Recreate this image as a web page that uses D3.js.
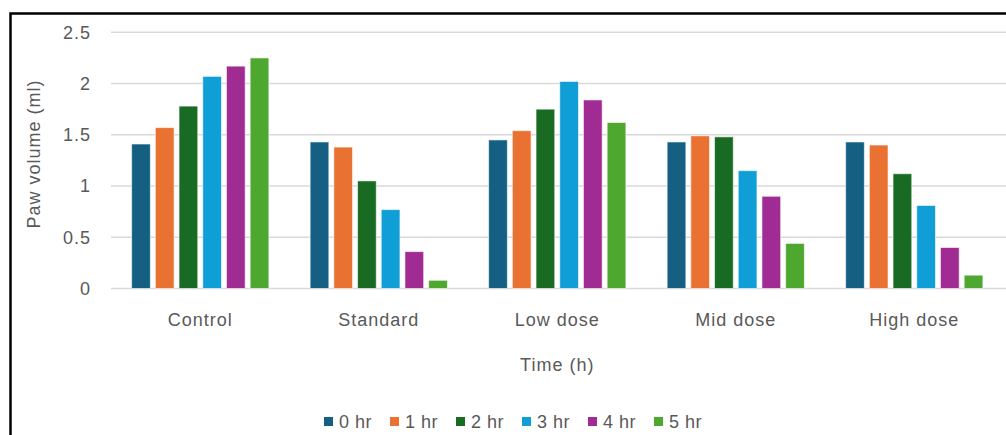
<!DOCTYPE html>
<html>
<head>
<meta charset="utf-8">
<script src="https://cdn.jsdelivr.net/npm/d3@7"></script>
<style>
  html, body { margin: 0; padding: 0; background: #fff; }
  svg { display: block; font-family: "Liberation Sans", Arial, sans-serif; }
</style>
</head>
<body>
<div id="chart"></div>
<script>
const categories = ["Control", "Standard", "Low dose", "Mid dose", "High dose"];
const seriesNames = ["0 hr", "1 hr", "2 hr", "3 hr", "4 hr", "5 hr"];
const hr0 = [1.41, 1.43, 1.45, 1.43, 1.43];
const hr1 = [1.57, 1.38, 1.54, 1.49, 1.40];
const hr2 = [1.78, 1.05, 1.75, 1.48, 1.12];
const hr3 = [2.07, 0.77, 2.02, 1.15, 0.81];
const hr4 = [2.17, 0.36, 1.84, 0.90, 0.40];
const hr5 = [2.25, 0.08, 1.62, 0.44, 0.13];
const yTicks = [0, 0.5, 1, 1.5, 2, 2.5];
const colors = ["#156082", "#E97132", "#196B24", "#0F9ED5", "#A02B93", "#4EA72E"];

(function() {
  const width = 1006;
  const height = 435;
  const plot = { left: 111, right: 1003.5, top: 32.3, bottom: 288.5 };
  const textColor = "#595959";
  const series = [hr0, hr1, hr2, hr3, hr4, hr5];

  const svg = d3.select("#chart")
    .append("svg")
    .attr("width", width)
    .attr("height", height);

  const x0 = d3.scaleBand()
    .domain(categories)
    .range([plot.left, plot.right]);

  const x1 = d3.scaleBand()
    .domain(seriesNames)
    .range([0, x0.bandwidth()])
    .paddingInner(0.21)
    .paddingOuter(0.87);

  const y = d3.scaleLinear()
    .domain([0, 2.5])
    .range([plot.bottom, plot.top]);

  // Gridlines
  svg.append("g")
    .selectAll("line")
    .data(yTicks)
    .join("line")
    .attr("x1", plot.left)
    .attr("x2", width)
    .attr("y1", d => y(d))
    .attr("y2", d => y(d))
    .attr("stroke", "#d9d9d9")
    .attr("stroke-width", 1.5);

  // Y axis labels
  const yAxis = svg.append("g")
    .attr("transform", "translate(91,0)")
    .call(d3.axisLeft(y).tickValues(yTicks).tickSize(0).tickPadding(0).tickFormat(d3.format("")));
  yAxis.select(".domain").remove();
  yAxis.selectAll("text")
    .attr("font-size", "18px")
    .attr("letter-spacing", "1px")
    .attr("font-family", "Liberation Sans, Arial, sans-serif")
    .attr("fill", textColor);

  // X axis labels
  const xAxis = svg.append("g")
    .attr("transform", `translate(0,${plot.bottom})`)
    .call(d3.axisBottom(x0).tickSize(0).tickPadding(25));
  xAxis.select(".domain").remove();
  xAxis.selectAll("text")
    .attr("font-size", "18px")
    .attr("letter-spacing", "1px")
    .attr("font-family", "Liberation Sans, Arial, sans-serif")
    .attr("fill", textColor);

  // Bars
  const groups = svg.append("g")
    .selectAll("g")
    .data(categories)
    .join("g")
    .attr("transform", d => `translate(${x0(d)},0)`);

  groups.selectAll("rect")
    .data((c, ci) => seriesNames.map((s, si) => ({ s, si, v: series[si][ci] })))
    .join("rect")
    .attr("x", d => x1(d.s))
    .attr("y", d => y(d.v))
    .attr("width", x1.bandwidth())
    .attr("height", d => y(0) - y(d.v))
    .attr("fill", d => colors[d.si])
    .attr("stroke", "rgba(255,255,255,0.6)")
    .attr("stroke-width", 1);

  // Axis titles
  svg.append("text")
    .attr("x", (plot.left + plot.right) / 2)
    .attr("y", 371)
    .attr("text-anchor", "middle")
    .attr("font-size", "18px")
    .attr("letter-spacing", "1px")
    .attr("fill", textColor)
    .text("Time (h)");

  svg.append("text")
    .attr("transform", "rotate(-90)")
    .attr("x", -154)
    .attr("y", 40)
    .attr("text-anchor", "middle")
    .attr("font-size", "18px")
    .attr("letter-spacing", "1px")
    .attr("fill", textColor)
    .text("Paw volume (ml)");

  // Legend
  const legend = svg.append("g")
    .selectAll("g")
    .data(seriesNames)
    .join("g")
    .attr("transform", (d, i) => `translate(${324 + i * 66},0)`);

  legend.append("rect")
    .attr("x", 0)
    .attr("y", 417)
    .attr("width", 9)
    .attr("height", 9)
    .attr("fill", (d, i) => colors[i]);

  legend.append("text")
    .attr("x", 15)
    .attr("y", 427.5)
    .attr("font-size", "18px")
    .attr("letter-spacing", "0.5px")
    .attr("fill", textColor)
    .text(d => d);

  // Outer border (only top and left are inside the frame)
  svg.append("rect")
    .attr("x", 10.5)
    .attr("y", 13.5)
    .attr("width", width + 20)
    .attr("height", height + 20)
    .attr("fill", "none")
    .attr("stroke", "#000")
    .attr("stroke-width", 2.5);
})();
</script>
</body>
</html>
